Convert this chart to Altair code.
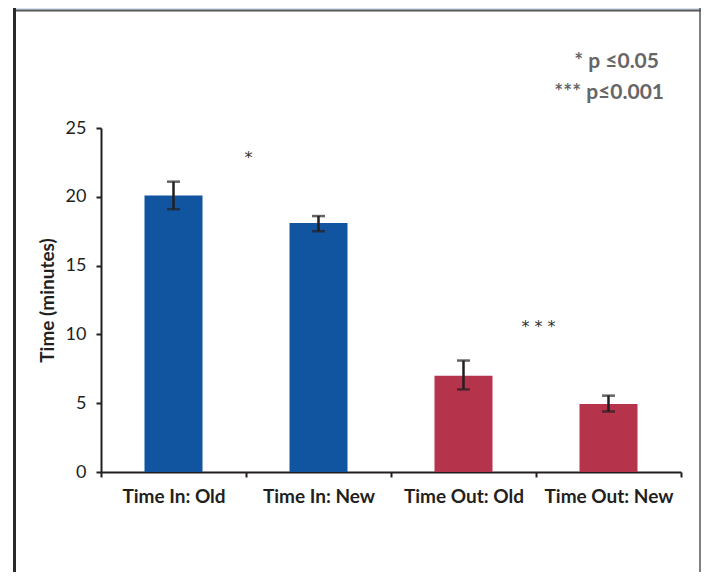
import altair as alt
import pandas as pd

categories = ["Time In: Old", "Time In: New", "Time Out: Old", "Time Out: New"]
means = [20.1, 18.1, 7.0, 4.95]
err_low = [19.1, 17.5, 6.0, 4.4]
err_high = [21.1, 18.6, 8.1, 5.55]
bar_colors = ["#1155a1", "#1155a1", "#b5344b", "#b5344b"]

star_text = ["*", "* * *"]
star_anchor = ["Time In: Old", "Time Out: Old"]
star_y = [22.45, 10.2]

legend_lines = ["* p \u22640.05", "*** p\u22640.001"]

FONT = "Lato"
W, H = 580, 344

df = pd.DataFrame({"cat": categories, "mean": means, "lo": err_low, "hi": err_high, "color": bar_colors})
stars = pd.DataFrame({"cat": star_anchor, "y": star_y, "t": star_text})

xenc = alt.X("cat:N", sort=categories, title=None,
             scale=alt.Scale(paddingInner=0, paddingOuter=0),
             axis=alt.Axis(tickBand="extent", labelAngle=0, labelFont=FONT, labelFontSize=19,
                           labelFontWeight="bold", labelColor="#231f20", labelPadding=10,
                           domainColor="#231f20", domainWidth=2, tickColor="#231f20",
                           tickWidth=2, tickSize=5))
yscale = alt.Scale(domain=[0, 25], nice=False)
yenc = alt.Y("mean:Q", scale=yscale, title="Time (minutes)",
             axis=alt.Axis(values=[0, 5, 10, 15, 20, 25], grid=False, labelFont=FONT,
                           labelFontSize=18, labelColor="#231f20", labelPadding=10,
                           domainColor="#231f20", domainWidth=2, tickColor="#231f20",
                           tickWidth=2, tickSize=5, titleFont=FONT, titleFontSize=19,
                           titleFontWeight="bold", titleColor="#231f20", titleX=-54,
                           titleY=H / 2, titleBaseline="middle"))

bars = alt.Chart(df).mark_bar(size=58).encode(
    x=xenc, y=yenc, color=alt.Color("color:N", scale=None))
err = alt.Chart(df).mark_rule(color="#231f20", strokeWidth=2.5).encode(
    x=alt.X("cat:N", sort=categories), y=alt.Y("lo:Q"), y2="hi:Q")
cap_lo = alt.Chart(df).mark_tick(color="#231f20", thickness=2.5, size=13, orient="horizontal").encode(
    x=alt.X("cat:N", sort=categories), y=alt.Y("lo:Q"))
cap_hi = alt.Chart(df).mark_tick(color="#231f20", thickness=2.5, size=13, orient="horizontal").encode(
    x=alt.X("cat:N", sort=categories), y=alt.Y("hi:Q"))
star_marks = alt.Chart(stars).mark_text(font="DejaVu Sans", fontSize=16, fill="#333333", dx=75,
                                        baseline="alphabetic").encode(
    x=alt.X("cat:N", sort=categories), y=alt.Y("y:Q"), text="t:N")

leg1 = alt.Chart(alt.Data(values=[{"t": legend_lines[0]}])).mark_text(
    font=FONT, fontSize=21, fontWeight="bold", fill="#666666", align="right",
    baseline="middle").encode(x=alt.value(558), y=alt.value(-66), text="t:N")
leg2 = alt.Chart(alt.Data(values=[{"t": legend_lines[1]}])).mark_text(
    font=FONT, fontSize=21, fontWeight="bold", fill="#666666", align="right",
    baseline="middle").encode(x=alt.value(563), y=alt.value(-35), text="t:N")

one = alt.Data(values=[{}])
header = alt.Chart(one).mark_rect(color="#d5e1f0").encode(
    x=alt.value(-87), x2=alt.value(600), y=alt.value(-120), y2=alt.value(-118.5))
top_line = alt.Chart(one).mark_rule(color="#555555", strokeWidth=2).encode(
    x=alt.value(-87), x2=alt.value(600), y=alt.value(-117.5))
left_line = alt.Chart(one).mark_rule(color="#2a2a2a", strokeWidth=3).encode(
    x=alt.value(-86.5), y=alt.value(-121), y2=alt.value(460))
right_line = alt.Chart(one).mark_rule(color="#555555", strokeWidth=1.5).encode(
    x=alt.value(599), y=alt.value(-121), y2=alt.value(460))

chart = alt.layer(header, top_line, left_line, right_line, bars, err, cap_lo, cap_hi,
                  star_marks, leg1, leg2).properties(
    width=W, height=H,
    background="white",
    autosize=alt.AutoSizeParams(type="none"),
    padding={"left": 93, "top": 120, "right": 20, "bottom": 100},
).configure_view(stroke=None)

chart.save("out.html", embed_options={"renderer": "svg", "actions": False})
